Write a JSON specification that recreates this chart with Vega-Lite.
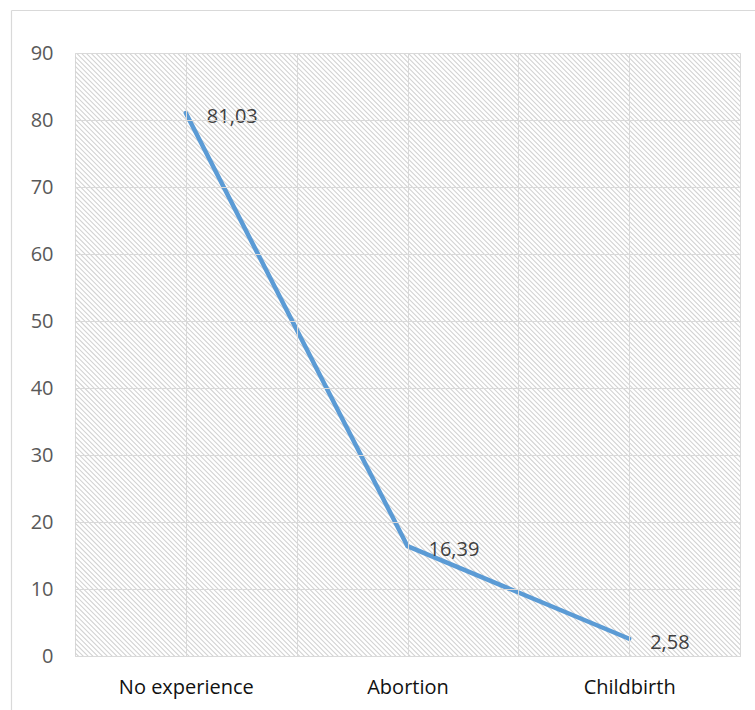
{
  "$schema": "https://vega.github.io/schema/vega-lite/v6.json",
  "width": 665,
  "height": 603,
  "autosize": "none",
  "padding": {"left": 75, "top": 53, "right": 15, "bottom": 54},
  "background": "white",
  "config": {
    "view": {"stroke": "#d9d9d9", "strokeWidth": 1},
    "font": "Open Sans",
    "locale": {"number": {"decimal": ",", "thousands": ".", "grouping": [3], "currency": ["", ""]}}
  },
  "layer": [
    {
      "data": {"values": [{}]},
      "layer": [
        {
          "mark": {"type": "rule", "strokeWidth": 1000, "strokeDash": [1.1, 2.3], "color": "#d3d3d3", "clip": true},
          "encoding": {
            "x": {"datum": 0, "type": "quantitative", "scale": {"domain": [0, 3], "nice": false},
                  "axis": {"orient": "top", "values": [1, 2], "grid": true, "gridColor": "#d9d9d9", "gridWidth": 1, "labels": false, "ticks": false, "domain": false, "title": null, "zindex": 1}},
            "x2": {"datum": 3},
            "y": {"datum": -4.65, "type": "quantitative", "scale": {"domain": [0, 90], "nice": false},
                  "axis": {"values": [0, 10, 20, 30, 40, 50, 60, 70, 80, 90], "grid": true, "gridColor": "#d9d9d9", "gridWidth": 1, "ticks": false, "domain": false, "labelPadding": 22, "labelFontSize": 20, "labelColor": "#595959", "title": null, "zindex": 1}},
            "y2": {"datum": 94.6}
          }
        },
        {
          "mark": {"type": "rule", "color": "#d9d9d9", "strokeWidth": 1.2, "clip": false},
          "encoding": {
            "x": {"datum": -0.2865, "type": "quantitative"},
            "y": {"datum": 96.34, "type": "quantitative"},
            "y2": {"datum": -12}
          }
        },
        {
          "mark": {"type": "rule", "color": "#d9d9d9", "strokeWidth": 1.2, "clip": false},
          "encoding": {
            "x": {"datum": -0.2865, "type": "quantitative"},
            "x2": {"datum": 3.2},
            "y": {"datum": 96.34, "type": "quantitative"}
          }
        }
      ]
    },
    {
      "data": {"values": [
        {"category": "No experience", "value": 81.03},
        {"category": "Abortion", "value": 16.39},
        {"category": "Childbirth", "value": 2.58}
      ]},
      "encoding": {
        "x": {"field": "category", "type": "nominal", "sort": null,
              "scale": {"type": "point", "padding": 0.5},
              "axis": {"grid": true, "gridColor": "#d9d9d9", "gridWidth": 1, "ticks": false, "domainColor": "#d9d9d9", "labelAngle": 0, "labelPadding": 21, "labelFontSize": 20, "labelColor": "#111111", "title": null, "zindex": 1}},
        "y": {"field": "value", "type": "quantitative", "scale": {"domain": [0, 90], "nice": false}}
      },
      "layer": [
        {"mark": {"type": "line", "color": "#5B9BD5", "strokeWidth": 4.5, "strokeCap": "round", "strokeJoin": "round"}},
        {"mark": {"type": "text", "align": "left", "baseline": "middle", "dx": 21, "dy": 4, "fontSize": 20, "color": "#404040"},
         "encoding": {"text": {"field": "value", "type": "quantitative", "format": ".2f"}}}
      ]
    }
  ],
  "resolve": {"scale": {"x": "independent"}, "axis": {"x": "independent"}}
}
